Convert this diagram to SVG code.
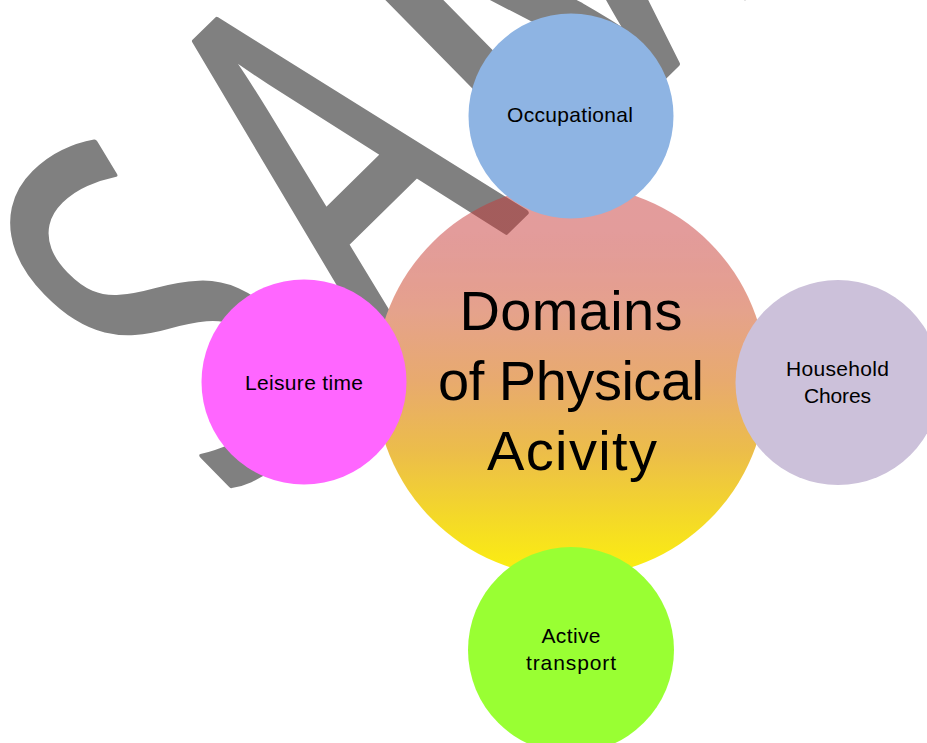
<svg xmlns="http://www.w3.org/2000/svg" width="927" height="743" viewBox="0 0 927 743">
  <style>
    .wm { font-family: "Liberation Sans", Arial, sans-serif; font-size: 514px; fill: #808080; stroke: #808080; stroke-width: 6; stroke-linejoin: round; }
    .wms { font-family: "Open Sans", "Liberation Sans", sans-serif; }
    .lbl { font-family: "Liberation Sans", Arial, sans-serif; font-size: 21px; fill: #000000; text-anchor: middle; }
    .big { font-family: "Liberation Sans", Arial, sans-serif; font-size: 56px; fill: #000000; text-anchor: middle; }
  </style>
  <defs>
    <linearGradient id="centerGrad" x1="0" y1="0" x2="0" y2="1">
      <stop offset="0" stop-color="rgb(199,57,57)" stop-opacity="0.5"/>
      <stop offset="0.12" stop-color="rgb(199,57,55)" stop-opacity="0.5"/>
      <stop offset="0.18" stop-color="rgb(208,92,83)" stop-opacity="0.6"/>
      <stop offset="0.23" stop-color="rgb(219,126,112)" stop-opacity="0.75"/>
      <stop offset="0.28" stop-color="rgb(226,149,131)" stop-opacity="0.9"/>
      <stop offset="0.32" stop-color="rgb(229,162,140)"/>
      <stop offset="0.5" stop-color="rgb(232,170,110)"/>
      <stop offset="0.68" stop-color="rgb(236,189,74)"/>
      <stop offset="0.85" stop-color="rgb(244,217,40)"/>
      <stop offset="1" stop-color="rgb(252,240,14)"/>
    </linearGradient>
  </defs>
  <rect x="0" y="0" width="927" height="743" fill="#ffffff"/>
  <g id="watermark" transform="translate(517,221) rotate(-44.5)">
    <text class="wm wms" transform="scale(0.65,1)" x="-626" y="0">S</text>
    <text class="wm" transform="scale(0.6,1)" x="-320" y="0">A</text>
    <text class="wm" transform="scale(0.85,1)" x="32.6" y="0">MPLE</text>
  </g>
  <g id="connectors"></g>
  <g id="center">
    <circle cx="571" cy="381" r="196" fill="url(#centerGrad)"/>
    <text class="big" x="571" y="330" textLength="223">Domains</text>
    <text class="big" x="571" y="400" textLength="266">of Physical</text>
    <text class="big" x="572" y="470" textLength="170">Acivity</text>
  </g>
  <g id="occupational">
    <circle cx="571" cy="116" r="102.5" fill="#8eb4e3"/>
    <text class="lbl" x="570" y="122" textLength="126">Occupational</text>
  </g>
  <g id="leisure">
    <circle cx="304" cy="382" r="102.5" fill="#ff66ff"/>
    <text class="lbl" x="304" y="390" textLength="118">Leisure time</text>
  </g>
  <g id="household">
    <circle cx="838" cy="382.5" r="102.5" fill="#ccc1da"/>
    <text class="lbl" x="837.5" y="376" textLength="103">Household</text>
    <text class="lbl" x="837.5" y="403" textLength="67">Chores</text>
  </g>
  <g id="active">
    <circle cx="571" cy="650" r="103" fill="#99ff33"/>
    <text class="lbl" x="571" y="643" textLength="59">Active</text>
    <text class="lbl" x="571" y="670" textLength="90">transport</text>
  </g>
</svg>
